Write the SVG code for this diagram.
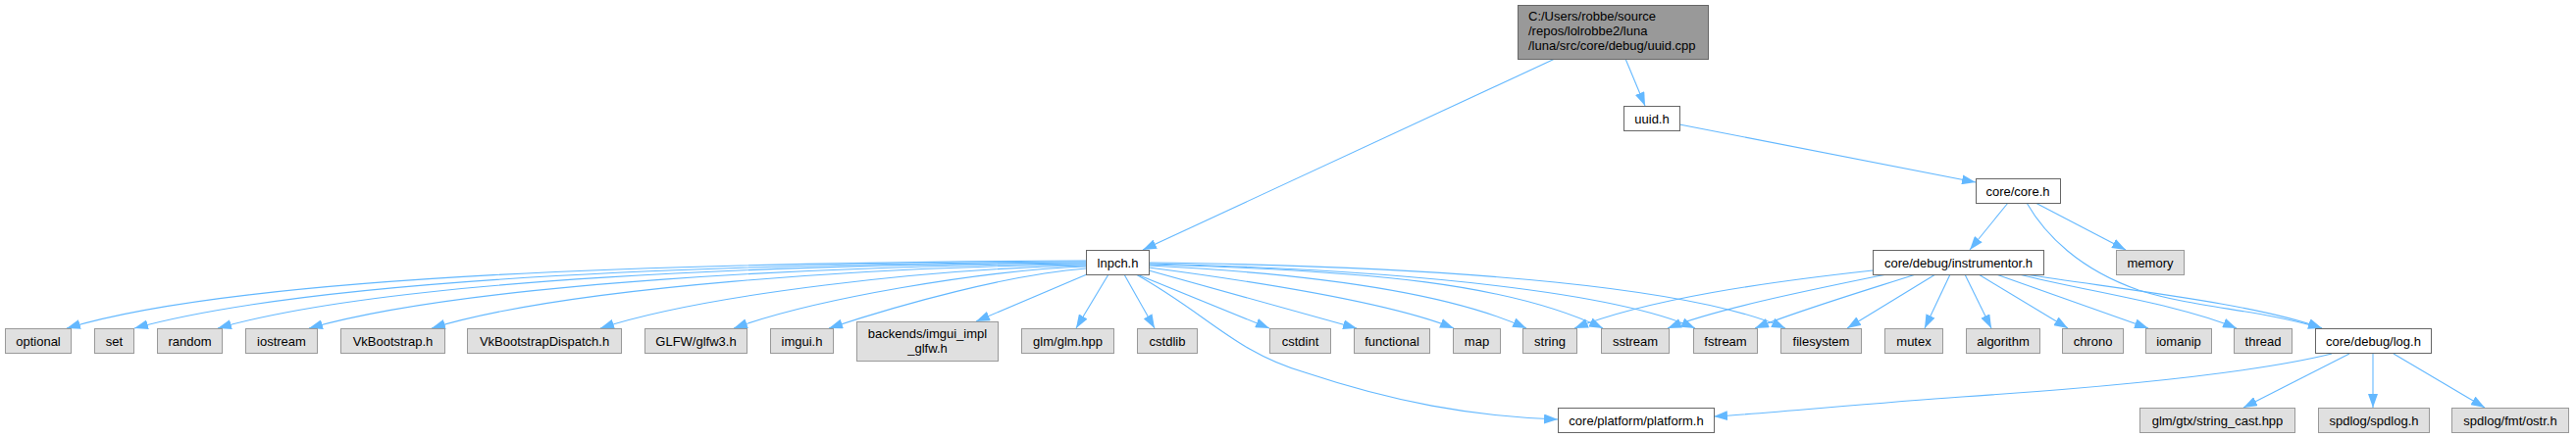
<svg xmlns="http://www.w3.org/2000/svg" width="2626" height="447" viewBox="0 0 2626 447">
<style>
text{font-family:"Liberation Sans",Arial,sans-serif;font-size:13px;fill:#000}
.n text{text-anchor:middle}
.w rect{fill:#fff;stroke:#666;stroke-width:1}
.g rect{fill:#e0e0e0;stroke:#999;stroke-width:1}
.r rect{fill:#999;stroke:#666;stroke-width:1}
.e path{fill:none;stroke:#63b8ff;stroke-width:1.1;marker-end:url(#ah)}
</style>
<defs>
<marker id="ah" markerUnits="userSpaceOnUse" markerWidth="14" markerHeight="10" refX="14" refY="5" orient="auto" viewBox="0 0 14 10">
<path d="M0,0 L14,5 L0,10 z" fill="#63b8ff"/>
</marker>
</defs>
<rect width="2626" height="447" fill="#fff"/>
<g class="e" id="edges">
<path d="M1585,60 L1165,255"/>
<path d="M1657,60 L1677,108"/>
<path d="M1712,127 L2014,186"/>
<path d="M2047,207 L2008,255"/>
<path d="M2075,207 L2167,255"/>
<path d="M2066,207 C2085,240 2120,275 2180,296 C2240,315 2300,315 2367,335"/>
<path d="M1909,276 C1800,288 1680,305 1605,335"/>
<path d="M1923,280 C1850,295 1750,315 1700,335"/>
<path d="M1953,280 C1900,297 1830,318 1789,335"/>
<path d="M1973,280 L1883,335"/>
<path d="M1988,280 L1962,335"/>
<path d="M2003,280 L2030,335"/>
<path d="M2017,280 L2108,335"/>
<path d="M2035,280 L2190,335"/>
<path d="M2058,280 C2130,298 2220,310 2280,335"/>
<path d="M2065,280 C2160,295 2300,310 2367,335"/>
<path d="M1107,266 C700,268 250,280 68,335"/>
<path d="M1107,267 C750,269 330,282 137,335"/>
<path d="M1107,268 C800,270 400,284 222,335"/>
<path d="M1107,269 C850,271 480,288 315,335"/>
<path d="M1107,270 C900,272 580,292 440,335"/>
<path d="M1107,271 C950,274 720,300 612,335"/>
<path d="M1107,272 C1000,276 830,305 748,335"/>
<path d="M1107,274 C1030,280 920,310 845,335"/>
<path d="M1108,280 L995,328"/>
<path d="M1130,280 L1097,335"/>
<path d="M1146,280 L1177,335"/>
<path d="M1159,280 L1294,335"/>
<path d="M1171,276 L1383,335"/>
<path d="M1171,273 C1300,290 1420,310 1482,335"/>
<path d="M1171,271 C1350,280 1480,300 1556,335"/>
<path d="M1171,270 C1400,276 1540,290 1634,335"/>
<path d="M1171,269 C1450,276 1650,300 1728,335"/>
<path d="M1171,268 C1500,272 1730,295 1820,335"/>
<path d="M1158,280 C1230,320 1260,360 1330,380 C1420,410 1500,425 1588,428"/>
<path d="M2377,361 C2300,380 2150,395 2000,405 C1900,412 1800,422 1747,425"/>
<path d="M2395,361 L2287,416"/>
<path d="M2419,361 L2419,416"/>
<path d="M2440,361 L2533,416"/>
</g>
<g id="root" class="r"><rect x="1547.5" y="5.5" width="194" height="55"/>
<text x="1558" y="21">C:/Users/robbe/source</text><text x="1558" y="36">/repos/lolrobbe2/luna</text><text x="1558" y="51">/luna/src/core/debug/uuid.cpp</text></g>
<g id="uuid" class="n w"><rect x="1655.5" y="108.5" width="57" height="25"/><text x="1684" y="125.5">uuid.h</text></g>
<g id="core" class="n w"><rect x="2014.5" y="182.5" width="86" height="25"/><text x="2057" y="199.5">core/core.h</text></g>
<g id="lnpch" class="n w"><rect x="1107.5" y="255.5" width="64" height="25"/><text x="1139.5" y="272.5">lnpch.h</text></g>
<g id="instrumentor" class="n w"><rect x="1909.5" y="255.5" width="174" height="25"/><text x="1996.5" y="272.5">core/debug/instrumentor.h</text></g>
<g id="memory" class="n g"><rect x="2157.5" y="255.5" width="69" height="25"/><text x="2192" y="272.5">memory</text></g>
<g id="optional" class="n g"><rect x="5.5" y="335.5" width="67" height="25"/><text x="39" y="352.5">optional</text></g>
<g id="set" class="n g"><rect x="96.5" y="335.5" width="40" height="25"/><text x="116.5" y="352.5">set</text></g>
<g id="random" class="n g"><rect x="160.5" y="335.5" width="66" height="25"/><text x="193.5" y="352.5">random</text></g>
<g id="iostream" class="n g"><rect x="250.5" y="335.5" width="73" height="25"/><text x="287" y="352.5">iostream</text></g>
<g id="vkb" class="n g"><rect x="347.5" y="335.5" width="106" height="25"/><text x="400.5" y="352.5">VkBootstrap.h</text></g>
<g id="vkbd" class="n g"><rect x="476.5" y="335.5" width="157" height="25"/><text x="555" y="352.5">VkBootstrapDispatch.h</text></g>
<g id="glfw" class="n g"><rect x="657.5" y="335.5" width="104" height="25"/><text x="709.5" y="352.5">GLFW/glfw3.h</text></g>
<g id="imgui" class="n g"><rect x="785.5" y="335.5" width="64" height="25"/><text x="817.5" y="352.5">imgui.h</text></g>
<g id="backends" class="n g"><rect x="873.5" y="328.5" width="144" height="40"/><text x="945.5" y="345">backends/imgui_impl</text><text x="945.5" y="360">_glfw.h</text></g>
<g id="glm" class="n g"><rect x="1041.5" y="335.5" width="94" height="25"/><text x="1088.5" y="352.5">glm/glm.hpp</text></g>
<g id="cstdlib" class="n g"><rect x="1159.5" y="335.5" width="61" height="25"/><text x="1190" y="352.5">cstdlib</text></g>
<g id="cstdint" class="n g"><rect x="1294.5" y="335.5" width="62" height="25"/><text x="1325.5" y="352.5">cstdint</text></g>
<g id="functional" class="n g"><rect x="1380.5" y="335.5" width="77" height="25"/><text x="1419" y="352.5">functional</text></g>
<g id="map" class="n g"><rect x="1481.5" y="335.5" width="48" height="25"/><text x="1505.5" y="352.5">map</text></g>
<g id="string" class="n g"><rect x="1552.5" y="335.5" width="55" height="25"/><text x="1580" y="352.5">string</text></g>
<g id="sstream" class="n g"><rect x="1632.5" y="335.5" width="69" height="25"/><text x="1667" y="352.5">sstream</text></g>
<g id="fstream" class="n g"><rect x="1726.5" y="335.5" width="65" height="25"/><text x="1759" y="352.5">fstream</text></g>
<g id="filesystem" class="n g"><rect x="1815.5" y="335.5" width="82" height="25"/><text x="1856.5" y="352.5">filesystem</text></g>
<g id="mutex" class="n g"><rect x="1921.5" y="335.5" width="59" height="25"/><text x="1951" y="352.5">mutex</text></g>
<g id="algorithm" class="n g"><rect x="2004.5" y="335.5" width="75" height="25"/><text x="2042" y="352.5">algorithm</text></g>
<g id="chrono" class="n g"><rect x="2102.5" y="335.5" width="62" height="25"/><text x="2133.5" y="352.5">chrono</text></g>
<g id="iomanip" class="n g"><rect x="2187.5" y="335.5" width="67" height="25"/><text x="2221" y="352.5">iomanip</text></g>
<g id="thread" class="n g"><rect x="2277.5" y="335.5" width="59" height="25"/><text x="2307" y="352.5">thread</text></g>
<g id="log" class="n w"><rect x="2360.5" y="335.5" width="118" height="25"/><text x="2419.5" y="352.5">core/debug/log.h</text></g>
<g id="platform" class="n w"><rect x="1588.5" y="416.5" width="159" height="25"/><text x="1668" y="433.5">core/platform/platform.h</text></g>
<g id="strcast" class="n g"><rect x="2181.5" y="416.5" width="158" height="25"/><text x="2260.5" y="433.5">glm/gtx/string_cast.hpp</text></g>
<g id="spdlog" class="n g"><rect x="2363.5" y="416.5" width="113" height="25"/><text x="2420" y="433.5">spdlog/spdlog.h</text></g>
<g id="ostr" class="n g"><rect x="2499.5" y="416.5" width="119" height="25"/><text x="2559" y="433.5">spdlog/fmt/ostr.h</text></g>
</svg>
